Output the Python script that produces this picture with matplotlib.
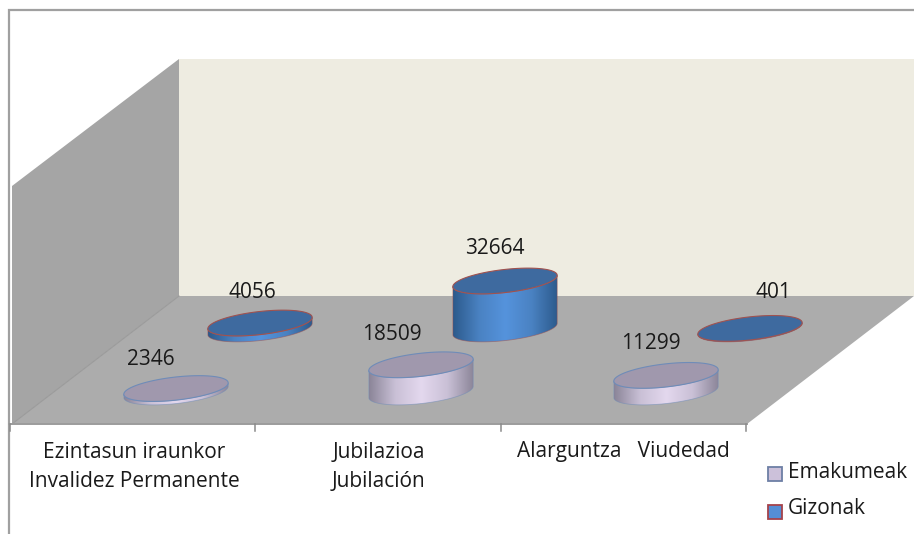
import numpy as np
import matplotlib
matplotlib.use("Agg")
import matplotlib.pyplot as plt
from matplotlib.colors import LinearSegmentedColormap
from matplotlib.patches import Polygon, Rectangle

categories = ["Ezintasun iraunkor\nInvalidez Permanente", "Jubilazioa\nJubilación", "Alarguntza   Viudedad"]
series_names = ["Emakumeak", "Gizonak"]
emakumeak = [2346, 18509, 11299]
gizonak = [4056, 32664, 401]

FONT = "Open Sans"
FS = 15
TXT = "#1a1a1a"

W, H = 914, 534
fig = plt.figure(figsize=(W / 100, H / 100), dpi=100, facecolor="white")
ax = fig.add_axes([0, 0, 1, 1])
ax.set_xlim(0, W)
ax.set_ylim(H, 0)
ax.axis("off")

# chart area frame
ax.plot([9, 9, W], [H, 10, 10], color="#a0a0a0", lw=1.6, solid_joinstyle="miter", zorder=1)

# 3-D box
back_l, back_r, back_t, back_b = 179, W, 59, 296
fl_l, fl_r, fl_b = 12, 747, 424
ax.add_patch(Rectangle((back_l, back_t), back_r - back_l, back_b - back_t, fc="#eeece1", ec="none", zorder=2))
ax.add_patch(Polygon([(fl_l, 186), (back_l, back_t), (back_l, back_b), (fl_l, fl_b)], fc="#a5a5a5", ec="none", zorder=2))
ax.add_patch(Polygon([(fl_l, fl_b), (back_l, back_b), (back_r, back_b), (fl_r, fl_b)], fc="#acacac", ec="none", zorder=3))
ax.plot([fl_l, back_l], [fl_b, back_b], color="#9a9a9a", lw=0.8, zorder=3)

# category axis
ax.plot([9, fl_r], [fl_b, fl_b], color="#9c9c9c", lw=1.4, zorder=4)
step = 245.3
for i in range(len(categories) + 1):
    ax.plot([10 + i * step] * 2, [fl_b, 431], color="#8a8a8a", lw=1.1, zorder=4)

label_x = [134, 379, 623]
label_y = [467, 467, 452]
for x, y, c in zip(label_x, label_y, categories):
    ax.text(x, y, c, ha="center", va="center", fontsize=FS, family=FONT, color=TXT, linespacing=1.55, zorder=6)

# cylinders
A, B, TILT = 52.5, 11.5, np.deg2rad(-6.5)
PX_PER_UNIT = 48.0 / 32664
t = np.linspace(0, 2 * np.pi, 181)


def ellipse(cx, cy):
    ex = A * np.cos(t)
    ey = B * np.sin(t)
    return cx + ex * np.cos(TILT) - ey * np.sin(TILT), cy + ex * np.sin(TILT) + ey * np.cos(TILT)


def cylinder(cx, base_y, value, side_cols, top_col, edge, lab_dx, lab_dy, z):
    h = value * PX_PER_UNIT
    bx, by = ellipse(cx, base_y)
    tx, ty = ellipse(cx, base_y - h)
    ext_x = np.hypot(A * np.cos(TILT), B * np.sin(TILT))
    i_r = int(np.argmax(bx))
    i_l = int(np.argmin(bx))
    idx = (np.arange(i_r, i_l + (len(t) if i_l < i_r else 0) + 1)) % len(t)
    verts = np.vstack([np.c_[bx[idx], by[idx]], np.c_[tx[idx][::-1], ty[idx][::-1]]])
    ax.add_patch(Polygon(verts, closed=True, fc="none", ec=edge, lw=0.6, alpha=0.55, zorder=z + 1))
    cmap = LinearSegmentedColormap.from_list("side", side_cols)
    grad = np.linspace(0, 1, 256)[None, :]
    im = ax.imshow(grad, cmap=cmap, extent=[cx - ext_x, cx + ext_x, base_y + 30, base_y - h - 30],
                   aspect="auto", zorder=z, interpolation="bilinear")
    im.set_clip_path(Polygon(verts, closed=True, transform=ax.transData))
    ax.fill(tx, ty, fc=top_col, ec=edge, lw=0.8, zorder=z + 2)
    ax.text(cx + lab_dx, base_y - h + lab_dy, f"{value}", ha="center", va="center", fontsize=FS,
            family=FONT, color=TXT, zorder=8)


LILAC = ["#8b8598", "#c9c0d6", "#e4d8ee", "#c9c0d6", "#8b8598"]
BLUE = ["#2c5a8c", "#4a82c2", "#5593dc", "#4a82c2", "#2c5a8c"]
base_front = (176, 392)
depth = (84, -63)
cat_step = 245
giz_dx, giz_dy = [-8, -10, 23], [-31, -32, -36]
ema_dx, ema_dy = [-25, -29, -15], [-29, -30, -32]
for i in range(len(categories)):
    cylinder(base_front[0] + depth[0] + i * cat_step, base_front[1] + depth[1], gizonak[i], BLUE, "#3e6a9f", "#a0524f",
             giz_dx[i], giz_dy[i], 4)
for i in range(len(categories)):
    cylinder(base_front[0] + i * cat_step, base_front[1], emakumeak[i], LILAC, "#a098ad", "#6f8cb8",
             ema_dx[i], ema_dy[i], 5)

# legend
for y0, ty, name, fc, ec in [(467, 472, series_names[0], "#ccc1da", "#6d7fa5"),
                             (505, 508, series_names[1], "#558ed5", "#a5424a")]:
    ax.add_patch(Rectangle((768, y0), 14, 14, fc=fc, ec=ec, lw=1.3, zorder=6))
    ax.text(788, ty, name, ha="left", va="center", fontsize=FS, family=FONT, color=TXT, zorder=6)

fig.savefig("out.png", dpi=100, facecolor="white")
